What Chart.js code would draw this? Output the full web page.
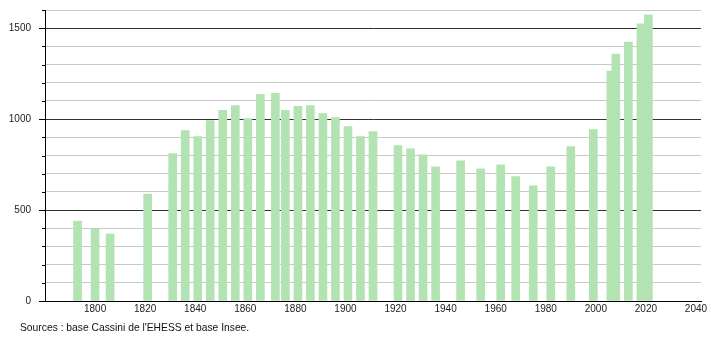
<!DOCTYPE html>
<html>
<head>
<meta charset="utf-8">
<script src="https://cdn.jsdelivr.net/npm/chart.js@4"></script>
<style>
  html, body { margin: 0; padding: 0; background: #fff; }
  #wrap { position: relative; width: 710px; height: 340px; overflow: hidden; }
  #popChart { position: absolute; left: 0; top: -4px; }
  #source {
    position: absolute; left: 20px; top: 322px;
    font: 10.3px "Liberation Sans", Arial, sans-serif; color: #111;
  }
</style>
</head>
<body>
<div id="wrap">
  <canvas id="popChart" width="710" height="344"></canvas>
  <div id="source">Sources : base Cassini de l'EHESS et base Insee.</div>
</div>
<script>
// Census years and population
const years = [1793, 1800, 1806, 1821, 1831, 1836, 1841, 1846, 1851, 1856, 1861, 1866, 1872, 1876,
  1881, 1886, 1891, 1896, 1901, 1906, 1911, 1921, 1926, 1931, 1936, 1946, 1954, 1962, 1968,
  1975, 1982, 1990, 1999, 2006, 2008, 2013, 2018, 2021];
const population = [439, 398, 369, 588, 810, 937, 904, 992, 1048, 1075, 1003, 1136, 1142, 1048,
  1070, 1075, 1031, 1009, 959, 904, 931, 854, 837, 804, 738, 771, 727, 749, 684,
  633, 738, 849, 942, 1264, 1358, 1424, 1524, 1574];

// Axis ticks
const xTicks = [1800, 1820, 1840, 1860, 1880, 1900, 1920, 1940, 1960, 1980, 2000, 2020, 2040];
const yTicks = [0, 500, 1000, 1500];
const yGrid = [0, 100, 200, 300, 400, 500, 600, 700, 800, 900, 1000, 1100, 1200, 1300, 1400, 1500, 1600];

const FONT = { family: "'Liberation Sans', Arial, sans-serif", size: 10 };

// short minor tick marks on the y axis (every 100)
const minorTicks = {
  id: "minorTicks",
  afterDraw(chart) {
    const y = chart.scales.y;
    const ctx = chart.ctx;
    ctx.save();
    ctx.strokeStyle = "#000";
    ctx.lineWidth = 1;
    y.ticks.forEach(t => {
      if (t.value % 500 === 0) return;
      const py = Math.round(y.getPixelForValue(t.value)) + 0.5;
      ctx.beginPath();
      ctx.moveTo(y.right - 3, py);
      ctx.lineTo(y.right, py);
      ctx.stroke();
    });
    ctx.restore();
  }
};

new Chart(document.getElementById("popChart"), {
  type: "bar",
  data: {
    datasets: [{
      data: years.map((yr, i) => ({ x: yr, y: population[i] })),
      backgroundColor: "#b3e3b3",
      barThickness: 8,
      borderWidth: 0
    }]
  },
  options: {
    responsive: false,
    animation: false,
    layout: { padding: { top: 0, right: 9, left: 0, bottom: 0 } },
    plugins: { legend: { display: false }, tooltip: { enabled: false } },
    scales: {
      x: {
        type: "linear",
        min: 1780,
        max: 2042,
        offset: false,
        grid: { display: false, drawTicks: false },
        border: { color: "#000", width: 1 },
        afterBuildTicks: s => { s.ticks = xTicks.map(v => ({ value: v })); },
        ticks: {
          autoSkip: false,
          maxRotation: 0,
          color: "#222",
          font: FONT,
          padding: 2,
          callback: v => String(v)
        },
        afterFit: s => { s.height = 39; }
      },
      y: {
        min: 0,
        max: 1600,
        grid: {
          color: c => c.tick && c.tick.value % 500 === 0 ? "#333" : "#c8c8c8",
          tickColor: c => c.tick && c.tick.value % 500 === 0 ? "#000" : "rgba(0,0,0,0)",
          tickLength: 6,
          lineWidth: 1
        },
        border: { color: "#000", width: 1 },
        afterBuildTicks: s => { s.ticks = yGrid.map(v => ({ value: v })); },
        ticks: {
          autoSkip: false,
          color: "#222",
          font: FONT,
          padding: 8,
          callback: v => yTicks.includes(v) ? String(v) : ""
        },
        afterFit: s => { s.width = 45; }
      }
    }
  },
  plugins: [minorTicks]
});
</script>
</body>
</html>
